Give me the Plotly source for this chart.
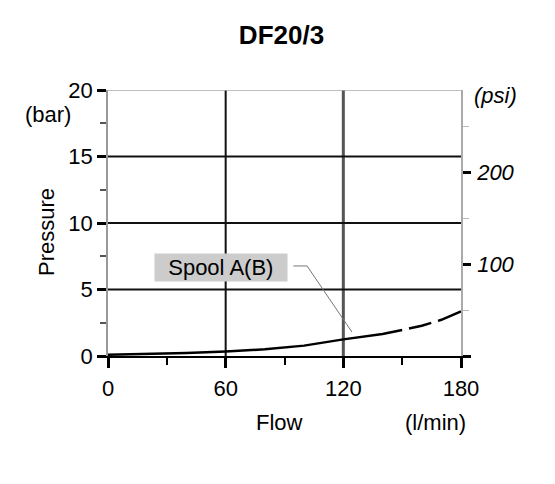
import plotly.graph_objects as go

# Data
flow_solid = [0, 20, 40, 60, 80, 100, 120, 140, 150]
pres_solid = [0.1, 0.15, 0.22, 0.33, 0.5, 0.78, 1.25, 1.65, 1.95]
flow_dash = [150, 160, 170, 180]
pres_dash = [1.95, 2.28, 2.72, 3.35]

x_ticks = [0, 60, 120, 180]
y_ticks = [0, 5, 10, 15, 20]
psi_ticks = [0, 100, 200]
psi_labels = ["", "<i>100</i>", "<i>200</i>"]
PSI_PER_BAR = 14.5038

leader_x = [94.5, 101.5, 124.4]
leader_y = [6.77, 6.77, 1.8]

FONT = "Liberation Sans, Arial, sans-serif"
FS = 22
OFF = 8  # page body margin

W, H = 555, 484
L, R, T, B = 108, 94, 90, 128

fig = go.Figure()
fig.add_trace(go.Scatter(x=flow_solid, y=pres_solid, mode="lines",
                         line=dict(color="black", width=2.5), showlegend=False))
fig.add_trace(go.Scatter(x=flow_dash, y=pres_dash, mode="lines",
                         line=dict(color="black", width=2.5, dash="0px,7px,23px,7px,40px"),
                         showlegend=False))
fig.add_trace(go.Scatter(x=leader_x, y=leader_y, mode="lines",
                         line=dict(color="#777777", width=1), showlegend=False))
fig.add_trace(go.Scatter(x=[0], y=[0], yaxis="y2", mode="markers",
                         marker=dict(opacity=0), showlegend=False, hoverinfo="skip"))

# grid lines
fig.add_shape(type="line", x0=60, x1=60, y0=0, y1=20, xref="x", yref="y",
              line=dict(color="#111111", width=2), layer="below")
fig.add_shape(type="line", x0=120, x1=120, y0=0, y1=20, xref="x", yref="y",
              line=dict(color="#555555", width=3), layer="below")
for yv in [5, 10, 15]:
    fig.add_shape(type="line", x0=0, x1=180, y0=yv, y1=yv, xref="x", yref="y",
                  line=dict(color="#111111", width=1.8), layer="below")
fig.add_shape(type="line", x0=0, x1=180, y0=20, y1=20, xref="x", yref="y",
              line=dict(color="#aaaaaa", width=1.5), layer="below")

fig.update_layout(
    width=W - OFF, height=H - OFF,
    margin=dict(l=L - OFF, r=R, t=T - OFF, b=B, autoexpand=False),
    paper_bgcolor="white", plot_bgcolor="white",
    font=dict(family=FONT, size=FS, color="black"),
    title=dict(text="<b>DF20/3</b>", x=0.5, xanchor="center",
               y=1 - (35 - OFF) / (H - OFF), yanchor="middle", yref="container",
               font=dict(size=26, family=FONT)),
    xaxis=dict(range=[0, 180], tickvals=x_ticks, ticks="outside", ticklen=10,
               tickwidth=3, tickcolor="black", showgrid=False, zeroline=False,
               showline=True, linecolor="black", linewidth=2, ticklabelstandoff=2,
               minor=dict(dtick=30, tick0=0, ticks="outside", ticklen=7, tickwidth=1.5,
                          tickcolor="black"),
               tickfont=dict(size=FS)),
    yaxis=dict(range=[0, 20], tickvals=y_ticks, ticks="outside", ticklen=9,
               tickwidth=3, tickcolor="black", showgrid=False, zeroline=False,
               showline=True, linecolor="#999999", linewidth=1.5,
               minor=dict(dtick=2.5, tick0=0, ticks="outside", ticklen=6, tickwidth=1.5,
                          tickcolor="#555555"),
               tickfont=dict(size=FS)),
    yaxis2=dict(range=[0, 20 * PSI_PER_BAR], overlaying="y", side="right",
                tickvals=psi_ticks, ticktext=psi_labels, ticks="outside", ticklen=8,
                tickwidth=3, tickcolor="black", showgrid=False, zeroline=False,
                showline=True, linecolor="#aaaaaa", linewidth=1.5,
                minor=dict(dtick=50, tick0=0, ticks="outside", ticklen=6, tickwidth=1,
                           tickcolor="#bbbbbb"),
                tickfont=dict(size=FS), ticklabelstandoff=2),
    annotations=[
        dict(text="&nbsp;&nbsp;Spool A(B)&nbsp;&nbsp;", x=57.6, y=6.65, xref="x", yref="y",
             showarrow=False, bgcolor="#cccccc", font=dict(size=FS), borderpad=1),
        dict(text="Pressure", x=46, y=232, showarrow=False, textangle=-90),
        dict(text="(bar)", x=48, y=114, showarrow=False),
        dict(text="<i>(psi)</i>", x=495, y=95, showarrow=False),
        dict(text="Flow", x=279, y=422, showarrow=False),
        dict(text="(l/min)", x=435, y=422, showarrow=False),
    ],
)

# convert pixel positions of free labels to paper coords
pw = W - L - R
ph = H - T - B
new_ann = []
for a in fig.layout.annotations:
    if a.xref != "x":
        a.xref = "paper"; a.yref = "paper"
        a.xanchor = "center"; a.yanchor = "middle"
        a.x = (a.x - L) / pw
        a.y = (H - B - a.y) / ph
    new_ann.append(a)
fig.layout.annotations = new_ann

fig.write_html("out.html")
